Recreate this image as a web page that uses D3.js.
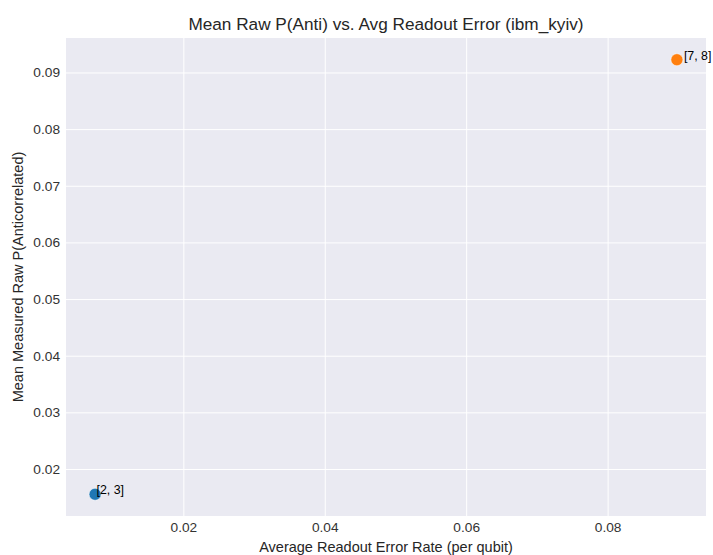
<!DOCTYPE html>
<html><head><meta charset="utf-8">
<script src="https://cdn.jsdelivr.net/npm/d3@7"></script>
<style>body{margin:0;background:#fff;}svg{display:block;font-family:"Liberation Sans",Arial,sans-serif;}</style>
</head><body>
<svg id="chart" width="713" height="555"></svg>
<script>
const pairs = ["[2, 3]", "[7, 8]"];
const readoutError = [0.00752, 0.0898];
const pAnti = [0.01554, 0.09225];
const colors = ["#1f77b4", "#ff7f0e"];
const xTicks = [0.02, 0.04, 0.06, 0.08];
const yTicks = [0.02, 0.03, 0.04, 0.05, 0.06, 0.07, 0.08, 0.09];

const svg = d3.select("#chart");
const m = {left: 66, right: 7, top: 38, bottom: 39};
const W = 713, H = 555;

function padded(v){ const lo=d3.min(v), hi=d3.max(v), p=(hi-lo)*0.05; return [lo-p, hi+p]; }
const x = d3.scaleLinear().domain(padded(readoutError)).range([m.left, W-m.right]);
const y = d3.scaleLinear().domain(padded(pAnti)).range([H-m.bottom, m.top]);

svg.append("rect").attr("x", m.left).attr("y", m.top)
  .attr("width", W-m.left-m.right).attr("height", H-m.top-m.bottom).attr("fill", "#EAEAF2");

const xAxis = svg.append("g").attr("transform", `translate(0,${H-m.bottom})`)
  .call(d3.axisBottom(x).tickValues(xTicks).tickFormat(d3.format(".2f")).tickSize(-(H-m.top-m.bottom)).tickPadding(6));
const yAxis = svg.append("g").attr("transform", `translate(${m.left},0)`)
  .call(d3.axisLeft(y).tickValues(yTicks).tickFormat(d3.format(".2f")).tickSize(-(W-m.left-m.right)).tickPadding(6));
[xAxis, yAxis].forEach(g => {
  g.select(".domain").remove();
  g.selectAll(".tick line").attr("stroke", "#fff").attr("stroke-width", 1);
  g.selectAll(".tick text").attr("fill", "#333").attr("font-size", 13.7).style("font-family", "Liberation Sans, Arial, sans-serif");
});

const labelDx = [1.4, 7];
const pts = pairs.map((p,i)=>({p, x: readoutError[i], y: pAnti[i], c: colors[i], dx: labelDx[i]}));
svg.append("g").selectAll("circle").data(pts).join("circle")
  .attr("cx", d=>x(d.x)).attr("cy", d=>y(d.y)).attr("r", 6)
  .attr("fill", d=>d.c).attr("stroke", "#fff").attr("stroke-width", 0.5);
svg.append("g").selectAll("text").data(pts).join("text")
  .attr("x", d=>x(d.x)+d.dx).attr("y", d=>y(d.y)).attr("font-size", 12.4).attr("fill", "#000")
  .text(d=>d.p);

svg.append("text").attr("x", (m.left+W-m.right)/2).attr("y", 30).attr("text-anchor", "middle")
  .attr("font-size", 17.2).attr("fill", "#262626").text("Mean Raw P(Anti) vs. Avg Readout Error (ibm_kyiv)");
svg.append("text").attr("x", (m.left+W-m.right)/2).attr("y", 552).attr("text-anchor", "middle")
  .attr("font-size", 14.5).attr("fill", "#262626").text("Average Readout Error Rate (per qubit)");
svg.append("text").attr("transform", `translate(23,${(m.top+H-m.bottom)/2}) rotate(-90)`).attr("text-anchor", "middle")
  .attr("font-size", 14.5).attr("fill", "#262626").text("Mean Measured Raw P(Anticorrelated)");
</script>
</body></html>
